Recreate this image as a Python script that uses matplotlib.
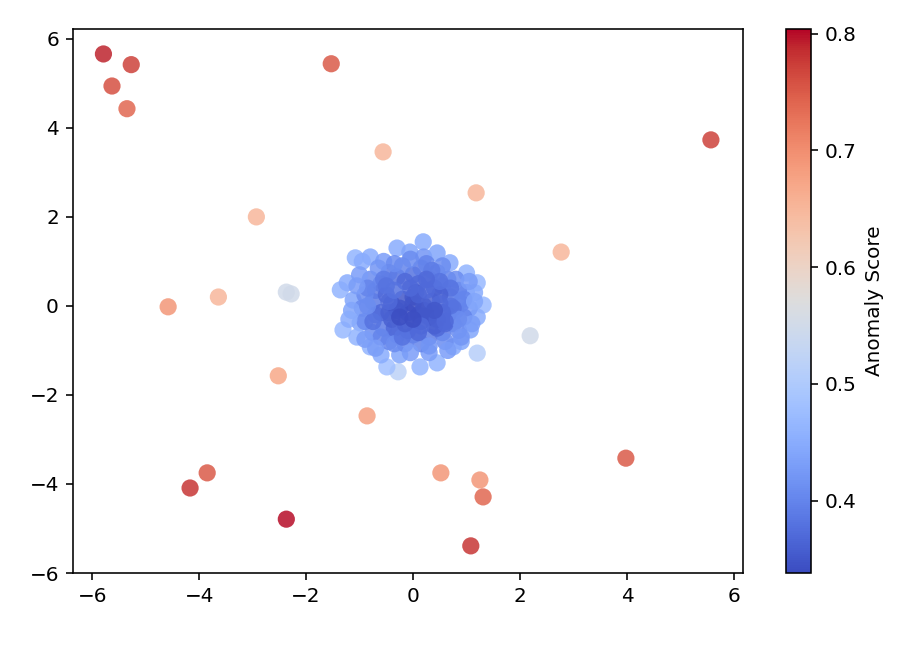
import numpy as np
import matplotlib
matplotlib.use("Agg")
import matplotlib.pyplot as plt

# outlying points: x, y, anomaly score
out_x = [-5.79, -5.27, -5.63, -5.35, -1.53, -0.56, 1.18, 5.57, -2.93, 2.77,
         -4.58, -3.64, -2.37, -2.28, 2.19, -2.52, -0.86, -3.85, -4.17, -2.37,
         0.52, 1.25, 1.31, 3.98, 1.08]
out_y = [5.66, 5.42, 4.94, 4.43, 5.44, 3.46, 2.54, 3.73, 2.00, 1.21,
         -0.02, 0.20, 0.31, 0.27, -0.67, -1.57, -2.47, -3.75, -4.09, -4.79,
         -3.75, -3.91, -4.29, -3.42, -5.39]
out_s = [0.79, 0.77, 0.76, 0.74, 0.75, 0.65, 0.65, 0.77, 0.65, 0.65,
         0.69, 0.65, 0.55, 0.55, 0.55, 0.67, 0.68, 0.75, 0.78, 0.80,
         0.69, 0.69, 0.74, 0.75, 0.78]

# central cluster (inner core, middle ring, outer edge, fill)
core_x = [-0.10, 0.10, 0.30, 0.45, -0.30, 0.00, 0.20, -0.20, 0.10, 0.35, -0.40, -0.15,
          0.15, 0.50, -0.45, 0.25, -0.05, -0.35, 0.55, 0.00, 0.60, -0.25, 0.40]
core_y = [-0.15, -0.20, -0.25, -0.30, -0.10, 0.05, 0.00, 0.15, 0.25, 0.10, -0.30, -0.40,
          -0.45, 0.05, 0.10, 0.35, 0.40, 0.35, -0.15, -0.30, -0.35, -0.25, -0.10]
core_s = [0.34, 0.35, 0.35, 0.36, 0.35, 0.34, 0.35, 0.35, 0.36, 0.36, 0.36, 0.36,
          0.37, 0.37, 0.37, 0.37, 0.37, 0.38, 0.37, 0.34, 0.37, 0.34, 0.35]

mid_x = [-0.60, -0.30, 0.00, 0.30, 0.55, 0.70, 0.80, 0.75, 0.55, 0.30, 0.00, -0.30,
         -0.55, -0.70, -0.75, -0.70, -0.45, 0.15, 0.45, 0.65, 0.85, 0.90, 0.95, 0.85,
         0.60, 0.15, -0.15, -0.45, -0.75, -0.90, -0.95, -0.90, -0.80, -0.20, -0.50, 0.40,
         -0.35, 0.45, 0.65, -0.60, 0.10, 0.10]
mid_y = [0.50, 0.65, 0.70, 0.60, 0.45, 0.20, -0.10, -0.40, -0.60, -0.70, -0.65, -0.65,
         -0.50, -0.20, 0.10, 0.35, 0.75, 0.85, 0.75, 0.60, 0.35, 0.05, -0.25, -0.55,
         -0.80, -0.85, -0.85, -0.80, -0.60, -0.35, -0.05, 0.25, 0.60, 0.90, 0.25, 0.40,
         -0.50, -0.50, -0.20, -0.15, 0.50, -0.60]
mid_s = [0.38, 0.38, 0.38, 0.38, 0.39, 0.39, 0.39, 0.39, 0.39, 0.39, 0.38, 0.38,
         0.39, 0.39, 0.39, 0.39, 0.39, 0.39, 0.40, 0.40, 0.40, 0.40, 0.40, 0.41,
         0.41, 0.40, 0.40, 0.40, 0.41, 0.41, 0.41, 0.41, 0.41, 0.40, 0.37, 0.37,
         0.37, 0.37, 0.37, 0.37, 0.37, 0.37]

edge_x = [0.19, -1.08, -0.80, -0.55, -0.30, -0.06, 0.20, 0.45, 0.69, 1.00, 1.20, 1.31,
          1.20, 1.07, 1.20, 0.75, 0.45, 0.13, -0.28, -0.49, -0.80, -1.31, -1.36, -1.23,
          -1.12, -0.99, 1.00, 1.05, -0.25, 0.30, 0.90, -0.60, -1.05, 1.15, -0.95]
edge_y = [1.44, 1.08, 1.10, 1.00, 1.30, 1.21, 1.10, 1.19, 0.97, 0.74, 0.52, 0.02,
          -0.25, -0.54, -1.06, -0.92, -1.28, -1.37, -1.48, -1.37, -0.92, -0.54, 0.36, 0.52,
          0.13, -0.38, 0.30, -0.05, -1.10, -1.05, -0.80, -1.10, -0.70, 0.30, 1.00]
edge_s = [0.45, 0.46, 0.45, 0.43, 0.45, 0.44, 0.42, 0.44, 0.45, 0.46, 0.47, 0.47,
          0.45, 0.44, 0.51, 0.45, 0.46, 0.46, 0.52, 0.48, 0.46, 0.47, 0.46, 0.45,
          0.44, 0.44, 0.43, 0.43, 0.44, 0.43, 0.44, 0.45, 0.46, 0.45, 0.45]

fill_x = [-0.05, 0.25, 0.55, -0.35, -0.65, 0.80, 1.05, -1.00, -0.15, 0.35, 0.70, -0.55,
          -0.85, 0.05, 0.50, -0.25, 0.95, -1.15, 0.20, -0.45, 0.75, -0.75, 0.40, -0.10,
          0.60, -0.60, 0.15, -0.35, 1.10, -1.20, 0.85, -0.90, 0.30, -0.05, 0.65, -0.70,
          1.15, -1.05, 0.50, -0.40, 0.00, 0.90, -0.20, 0.35, -0.85, 0.70, -0.50, 0.25]
fill_y = [1.05, 0.95, 0.90, 0.95, 0.85, 0.60, 0.55, 0.70, 0.55, 0.80, 0.40, 0.60,
          0.40, 0.30, 0.25, -0.05, 0.15, -0.10, -0.10, -0.15, -0.05, -0.35, -0.45, -0.55,
          -0.40, -0.70, -0.35, -0.85, -0.40, -0.30, -0.30, -0.75, -0.90, -1.05, -1.00, -0.95,
          0.10, 0.45, 0.55, 0.05, 0.20, -0.70, -0.70, -0.15, 0.00, 0.00, 0.45, 0.60]
fill_s = [0.41, 0.40, 0.41, 0.41, 0.42, 0.41, 0.43, 0.43, 0.37, 0.39, 0.38, 0.39,
          0.40, 0.35, 0.36, 0.35, 0.40, 0.44, 0.34, 0.36, 0.38, 0.38, 0.36, 0.37,
          0.37, 0.40, 0.35, 0.41, 0.43, 0.45, 0.41, 0.43, 0.42, 0.43, 0.43, 0.43,
          0.44, 0.43, 0.38, 0.36, 0.35, 0.42, 0.38, 0.35, 0.41, 0.38, 0.38, 0.37]

x = np.array(edge_x + mid_x + fill_x + core_x + out_x)
y = np.array(edge_y + mid_y + fill_y + core_y + out_y)
score = np.array(edge_s + mid_s + fill_s + core_s + out_s)

plt.rcParams['font.size'] = 10
fig = plt.figure(figsize=(920 / 144, 648 / 144), dpi=144)
ax = fig.add_axes([0.0793, 0.1157, 0.7283, 0.8395])
cax = fig.add_axes([0.8543, 0.1157, 0.0272, 0.8395])

sc = ax.scatter(x, y, c=score, cmap='coolwarm', vmin=0.338, vmax=0.804,
                s=74, alpha=0.85, linewidths=0)
ax.set_xlim(-6.36, 6.17)
ax.set_ylim(-6.0, 6.22)
ax.set_xticks([-6, -4, -2, 0, 2, 4, 6])
ax.set_yticks([-6, -4, -2, 0, 2, 4, 6])

cb = fig.colorbar(sc, cax=cax)
cb.solids.set_alpha(1)
cb.set_ticks([0.4, 0.5, 0.6, 0.7, 0.8])
cb.set_label('Anomaly Score')

fig.savefig('out.png', dpi=144)
